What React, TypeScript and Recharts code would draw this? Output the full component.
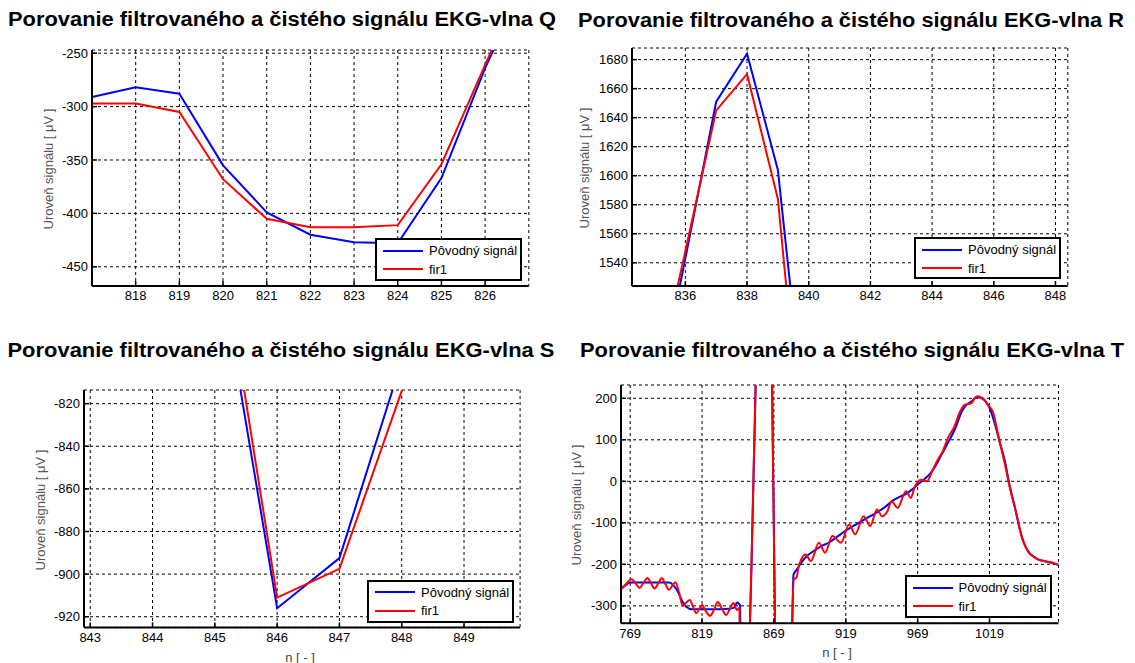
import { LineChart, Line, XAxis, YAxis, CartesianGrid } from 'recharts';

// Q wave
const qN = [817, 818, 819, 820, 821, 822, 823, 824, 825, 826, 827];
const qOrig = [-291, -282, -288, -355, -399, -420, -427, -428, -367, -264, -175];
const qFir = [-297, -297, -305, -368, -405, -413, -413, -411, -354, -261, -168];
const qXTicks = [818, 819, 820, 821, 822, 823, 824, 825, 826];
const qYTicks = [-450, -400, -350, -300, -250];

// R wave
const rN = [835, 836, 837, 838, 839, 840];
const rOrig = [1437, 1543, 1651, 1684, 1604, 1405];
const rFir = [1452, 1548, 1645, 1670, 1584, 1362];
const rXTicks = [836, 838, 840, 842, 844, 846, 848];
const rYTicks = [1540, 1560, 1580, 1600, 1620, 1640, 1660, 1680];

// S wave
const sN = [845, 846, 847, 848, 849];
const sOrig = [-742, -916, -892.5, -800, -700];
const sFir = [-727, -911, -897.5, -814, -705];
const sXTicks = [843, 844, 845, 846, 847, 848, 849];
const sYTicks = [-920, -900, -880, -860, -840, -820];

// T wave (uneven sample spacing)
const tOrigN = [
  763, 766, 769, 775, 785, 796, 799, 802, 805, 808, 812, 820, 830, 838, 841, 843.5, 845.5,
  846.5, 849, 852, 856.5, 862, 867.5, 870, 875, 881.5, 882.6, 885, 888, 892, 897.5, 902,
  907, 912, 918.5, 924, 930, 936, 942, 947, 951, 956, 960, 965, 969, 974, 978, 982, 985,
  990, 995, 1000, 1003, 1007, 1010, 1014, 1017, 1020, 1023, 1026, 1029.5, 1033, 1036.5,
  1040, 1043, 1046, 1050, 1054, 1058, 1063, 1067,
];
const tOrigV = [
  -257, -250, -244, -244, -244, -244, -250, -265, -287, -302, -308, -308, -308, -307, -305,
  -292, -300, -700, -800, -390, 260, 1600, 300, -400, -900, -400, -225, -212, -196, -180,
  -166, -156, -148, -136, -120, -108, -96, -84, -72, -60, -48, -38, -32, -20, -8, 6, 20, 40,
  60, 92, 126, 170, 184, 194, 203, 199, 190, 168, 135, 95, 52, -10, -60, -115, -148, -170,
  -182, -190, -193, -197, -201,
];
const tFirN = [
  762.6, 766, 770, 773, 775.5, 778, 781, 783.5, 786, 788.5, 791, 793.5, 796, 798, 800.5,
  803, 805.5, 808, 810.5, 813, 815, 817, 819, 821.5, 824.5, 827, 830, 833, 835.7, 838,
  840.8, 843.3, 845, 846, 849, 852, 856.5, 862, 867.5, 870, 875, 881, 882.8, 884.7, 886,
  888, 891, 894.7, 900.3, 904.5, 909.7, 915.7, 921.3, 925.5, 931.4, 936, 940.7, 944.2, 948,
  950.9, 955, 960.9, 964.3, 966.7, 971.3, 975.5, 979.5, 983, 986.4, 990, 994.6, 998, 1001.6,
  1006.2, 1010.4, 1014.3, 1017.8, 1021.3, 1024.8, 1029.5, 1034, 1037.6, 1042, 1046, 1050,
  1053.6, 1058.7, 1063.9, 1067,
];
const tFirV = [
  -261, -248, -236, -247, -257, -246, -233, -246, -258, -246, -233, -248, -261, -253, -243,
  -268, -300, -292, -286, -305, -318, -308, -298, -312, -324, -312, -291, -308, -322, -310,
  -293, -310, -305, -700, -800, -380, 270, 1600, 300, -400, -900, -420, -236, -232, -208,
  -188, -176, -192, -148, -172, -132, -148, -104, -128, -84, -108, -68, -84, -72, -48, -64,
  -24, -40, -16, 4, 0, 28, 52, 72, 104, 132, 164, 184, 188, 205, 200, 184, 168, 116, 44, -28,
  -76, -141, -169, -183, -189, -193, -197, -201,
];
const tXTicks = [769, 819, 869, 919, 969, 1019];
const tYTicks = [-300, -200, -100, 0, 100, 200];

const seriesNames = ['Pôvodný signál', 'fir1'];
const titles = [
  'Porovanie filtrovaného a čistého signálu EKG-vlna Q',
  'Porovanie filtrovaného a čistého signálu EKG-vlna R',
  'Porovanie filtrovaného a čistého signálu EKG-vlna S',
  'Porovanie filtrovaného a čistého signálu EKG-vlna T',
];
const yLabel = 'Uroveň signálu [ μV ]';
const xLabel = 'n [ - ]';

type Pt = { n: number; v: number };
const toPts = (ns: number[], vs: number[]): Pt[] => ns.map((n, i) => ({ n, v: vs[i] }));

const FONT = '"Liberation Sans", Arial, Helvetica, sans-serif';
const BLUE = '#0000ff';
const RED = '#ff0000';

type Box = { x: number; y: number; w: number; h: number };

const Panel = ({
  box, xDomain, xTicks, yDomain, yTicks, orig, fir, curve = 'linear',
}: {
  box: Box; xDomain: [number, number]; xTicks: number[];
  yDomain: [number, number]; yTicks: number[]; orig: Pt[]; fir: Pt[];
  curve?: 'linear' | 'monotone';
}) => {
  const YW = 60;
  const XH = 30;
  const M = 6;
  const axisLine = { stroke: '#000', strokeWidth: 2 };
  const tickLine = { stroke: '#000', strokeWidth: 1.5 };
  return (
    <div style={{ position: 'absolute', left: box.x - YW, top: box.y - M }}>
      <LineChart
        width={box.w + YW + M}
        height={box.h + XH + M}
        margin={{ top: M, right: M, bottom: 0, left: 0 }}
      >
        <CartesianGrid xAxisId="b" yAxisId="l" stroke="#000" strokeDasharray="3 3" />
        <XAxis
          xAxisId="b" type="number" dataKey="n" domain={xDomain} ticks={xTicks}
          allowDataOverflow interval={0} height={XH} tickSize={-5} tickMargin={10}
          tick={{ fontSize: 13, fill: '#000' }} axisLine={axisLine} tickLine={tickLine}
        />
        <XAxis
          xAxisId="t" orientation="top" type="number" dataKey="n" domain={xDomain} ticks={xTicks}
          allowDataOverflow interval={0} height={0} tickSize={-5} tick={false}
          axisLine={axisLine} tickLine={tickLine}
        />
        <YAxis
          yAxisId="l" type="number" domain={yDomain} ticks={yTicks} allowDataOverflow
          interval={0} width={YW} tickSize={-5} tickMargin={9}
          tick={{ fontSize: 13, fill: '#000' }} axisLine={axisLine} tickLine={tickLine}
        />
        <YAxis
          yAxisId="r" orientation="right" type="number" domain={yDomain} ticks={yTicks}
          allowDataOverflow interval={0} width={0} tickSize={-5} tick={false}
          axisLine={axisLine} tickLine={tickLine}
        />
        <Line
          xAxisId="b" yAxisId="l" data={orig} dataKey="v" type={curve} stroke={BLUE}
          strokeWidth={2} dot={false} isAnimationActive={false}
        />
        <Line
          xAxisId="b" yAxisId="l" data={fir} dataKey="v" type={curve} stroke={RED}
          strokeWidth={2} dot={false} isAnimationActive={false}
        />
      </LineChart>
    </div>
  );
};

const LegendBox = ({ x, y, w, h }: Box) => (
  <div
    style={{
      position: 'absolute', left: x, top: y, width: w, height: h, boxSizing: 'border-box',
      border: '2px solid #000', background: '#fff', fontSize: 13, color: '#000',
    }}
  >
    {seriesNames.map((name, i) => (
      <div
        key={name}
        style={{ position: 'absolute', left: 6, top: 2 + i * 18.5, height: 17, display: 'flex', alignItems: 'center' }}
      >
        <span style={{ display: 'inline-block', width: 40, height: 2, background: i === 0 ? BLUE : RED }} />
        <span style={{ marginLeft: 6, whiteSpace: 'nowrap' }}>{name}</span>
      </div>
    ))}
  </div>
);

const boxes: Box[] = [
  { x: 91.5, y: 50, w: 436.8, h: 236 },
  { x: 631.5, y: 48, w: 435.8, h: 238 },
  { x: 84.4, y: 390.3, w: 436.1, h: 237.4 },
  { x: 620.8, y: 385, w: 437.5, h: 238.3 },
];

const legends: Box[] = [
  { x: 375, y: 238, w: 147, h: 43 },
  { x: 914, y: 237, w: 147, h: 42 },
  { x: 367, y: 579.5, w: 147, h: 43 },
  { x: 904.5, y: 575, w: 147.5, h: 42.5 },
];

const titlePos = [
  { cx: 282, y: 26, len: 548 },
  { cx: 851, y: 26.5, len: 546 },
  { cx: 281, y: 357.3, len: 547 },
  { cx: 852, y: 357.3, len: 544 },
];

const yLabelPos = [
  { cx: 48.5, cy: 169 },
  { cx: 584, cy: 168 },
  { cx: 40.2, cy: 510 },
  { cx: 576.6, cy: 505 },
];

const xLabelPos = [
  { cx: 300, cy: 657 },
  { cx: 837, cy: 652 },
];

const App = () => (
  <div
    style={{
      position: 'absolute', left: 0, top: 0, width: 1135, height: 663, background: '#fff',
      fontFamily: FONT, overflow: 'hidden',
    }}
  >
    <Panel
      box={boxes[0]} xDomain={[817, 827]} xTicks={qXTicks} yDomain={[-468, -247]} yTicks={qYTicks}
      orig={toPts(qN, qOrig)} fir={toPts(qN, qFir)}
    />
    <Panel
      box={boxes[1]} xDomain={[834.27, 848.4]} xTicks={rXTicks} yDomain={[1524, 1688]} yTicks={rYTicks}
      orig={toPts(rN, rOrig)} fir={toPts(rN, rFir)}
    />
    <Panel
      box={boxes[2]} xDomain={[842.9, 849.9]} xTicks={sXTicks} yDomain={[-925, -813.6]} yTicks={sYTicks}
      orig={toPts(sN, sOrig)} fir={toPts(sN, sFir)}
    />
    <Panel
      box={boxes[3]} xDomain={[762.6, 1067]} xTicks={tXTicks} yDomain={[-342, 232]} yTicks={tYTicks}
      orig={toPts(tOrigN, tOrigV)} fir={toPts(tFirN, tFirV)} curve="monotone"
    />
    <svg
      width={1135} height={663}
      style={{ position: 'absolute', left: 0, top: 0, pointerEvents: 'none' }}
    >
      {titles.map((t, i) => (
        <text
          key={t} x={titlePos[i].cx} y={titlePos[i].y} textAnchor="middle" fontSize={20}
          fontWeight="bold" fill="#000" textLength={titlePos[i].len} lengthAdjust="spacingAndGlyphs"
        >
          {t}
        </text>
      ))}
      {yLabelPos.map((p, i) => (
        <text
          key={i} x={p.cx} y={p.cy} textAnchor="middle" dominantBaseline="central" fontSize={13}
          fill="#555" transform={`rotate(-90 ${p.cx} ${p.cy})`}
        >
          {yLabel}
        </text>
      ))}
      {xLabelPos.map((p, i) => (
        <text key={i} x={p.cx} y={p.cy} textAnchor="middle" dominantBaseline="central" fontSize={13} fill="#444">
          {xLabel}
        </text>
      ))}
    </svg>
    {legends.map((l, i) => (
      <LegendBox key={i} {...l} />
    ))}
  </div>
);

export default App;
